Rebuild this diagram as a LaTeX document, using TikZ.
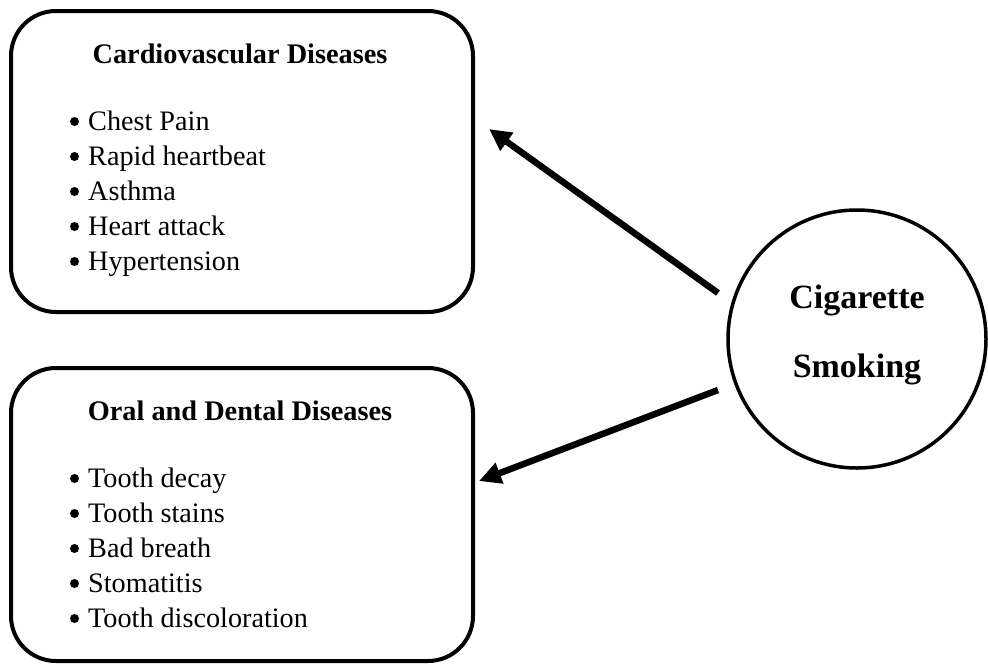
\documentclass[tikz,border=0pt]{standalone}
\usepackage{fontspec}
\setmainfont{Liberation Serif}
\usetikzlibrary{arrows.meta}
\begin{document}
\begin{tikzpicture}[x=1pt,y=-1pt,
  boxshape/.style={draw,line width=4pt,rounded corners=45pt,inner sep=0pt},
  titletext/.style={anchor=base,inner sep=0pt,font=\fontsize{28.3}{34}\selectfont\bfseries},
  itemtext/.style={anchor=base west,inner sep=0pt,font=\fontsize{28.2}{34}\selectfont},
  bulletdot/.style={circle,fill=black,inner sep=0pt,minimum size=9pt},
  circtext/.style={anchor=base,inner sep=0pt,font=\fontsize{34}{40}\selectfont\bfseries},
  arr/.style={line width=6.5pt,-{Triangle[length=22pt,width=21pt]}}]
\useasboundingbox (0,0) rectangle (988,664);
% boxes
\node[boxshape,minimum width=462pt,minimum height=301pt] (box1) at (242,161.5) {};
\node[boxshape,minimum width=462pt,minimum height=293pt] (box2) at (242,514.5) {};
% circle
\node[draw,circle,line width=3.5pt,minimum size=258pt,inner sep=0pt] (circ) at (857,339) {};
\node[circtext] (cig) at (857,308) {Cigarette};
\node[circtext] (smk) at (857,377) {Smoking};
% titles
\node[titletext] (t1) at (240,63) {Cardiovascular Diseases};
\node[titletext] (t2) at (240,420) {Oral and Dental Diseases};
% items box 1
\foreach \txt [count=\i] in {Chest Pain,Rapid heartbeat,Asthma,Heart attack,Hypertension}{
  \node[bulletdot] (b1\i) at (74.5,121.5+35*\i-35) {};
  \node[itemtext] (i1\i) at (88,130+35*\i-35) {\txt};
}
% items box 2
\foreach \txt [count=\i] in {Tooth decay,Tooth stains,Bad breath,Stomatitis,Tooth discoloration}{
  \node[bulletdot] (b2\i) at (74.5,478.5+35*\i-35) {};
  \node[itemtext] (i2\i) at (88,487+35*\i-35) {\txt};
}
% arrows
\coordinate (a1s) at (718,293);
\coordinate (a1e) at (489,129);
\coordinate (a2s) at (718,390);
\coordinate (a2e) at (479,481);
\draw[arr] (a1s) -- (a1e);
\draw[arr] (a2s) -- (a2e);
\end{tikzpicture}
\end{document}
